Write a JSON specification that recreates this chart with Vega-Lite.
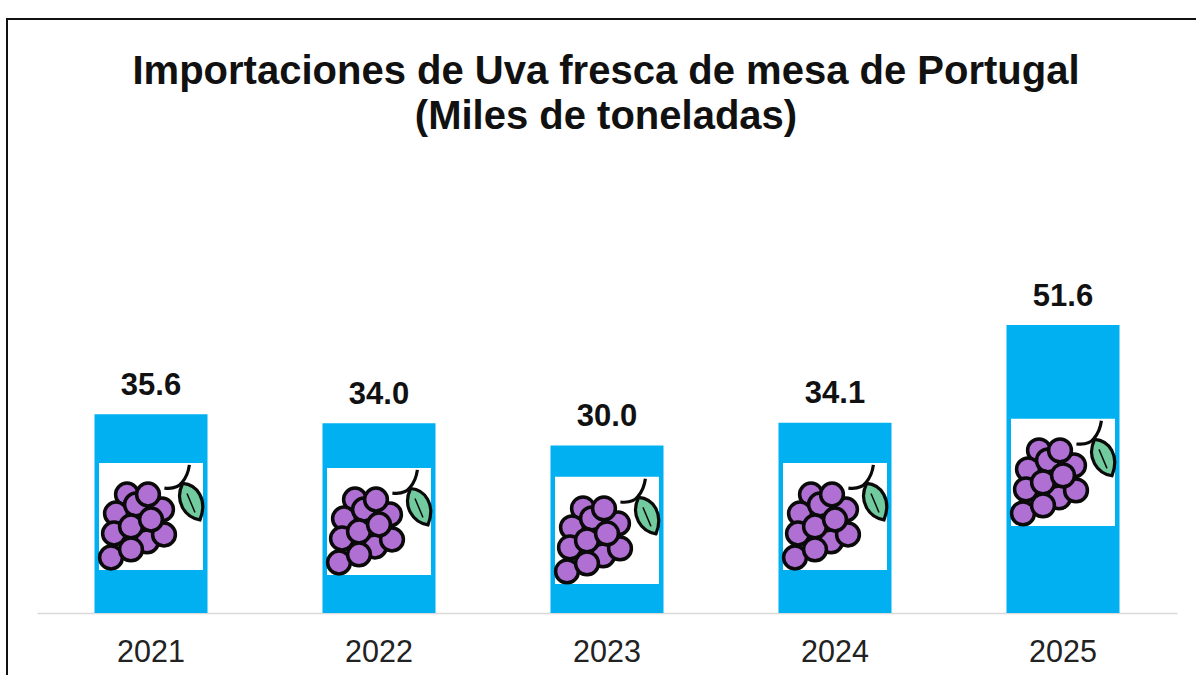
{"$schema":"https://vega.github.io/schema/vega-lite/v6.json","width":1220,"height":681,"autosize":{"type":"none"},"padding":{"left":7,"top":19,"right":0,"bottom":0},"background":"white","config":{"view":{"stroke":"#111111","strokeWidth":2},"font":"Liberation Sans"},"title":{"text":["Importaciones de Uva fresca de mesa de Portugal","(Miles de toneladas)"],"font":"Liberation Sans","fontSize":40,"fontWeight":"bold","color":"#111111","anchor":"middle","dx":-11,"baseline":"top","lineHeight":45,"offset":-117.5},"datasets":{"bars":[{"year":"2021","value":35.6,"label":"35.6"},{"year":"2022","value":34.0,"label":"34.0"},{"year":"2023","value":30.0,"label":"30.0"},{"year":"2024","value":34.1,"label":"34.1"},{"year":"2025","value":51.6,"label":"51.6"}],"icons":[{"year":"2021","low":7.7,"high":26.9,"c":17.3},{"year":"2022","low":6.8,"high":26.0,"c":16.4},{"year":"2023","low":5.2,"high":24.4,"c":14.8},{"year":"2024","low":7.7,"high":26.9,"c":17.3},{"year":"2025","low":15.6,"high":34.8,"c":25.2}],"grapes":[{"year":"2021","y":21.24,"dx":-24},{"year":"2021","y":18.55,"dx":11},{"year":"2021","y":17.84,"dx":-35},{"year":"2021","y":19.45,"dx":-15},{"year":"2021","y":21.24,"dx":-3},{"year":"2021","y":12.82,"dx":-4},{"year":"2021","y":14.25,"dx":-37},{"year":"2021","y":9.95,"dx":-40},{"year":"2021","y":14.07,"dx":13},{"year":"2021","y":15.51,"dx":-20},{"year":"2021","y":16.76,"dx":0},{"year":"2021","y":11.39,"dx":-20},{"year":"2022","y":20.34,"dx":-24},{"year":"2022","y":17.65,"dx":11},{"year":"2022","y":16.94,"dx":-35},{"year":"2022","y":18.55,"dx":-15},{"year":"2022","y":20.34,"dx":-3},{"year":"2022","y":11.92,"dx":-4},{"year":"2022","y":13.35,"dx":-37},{"year":"2022","y":9.05,"dx":-40},{"year":"2022","y":13.17,"dx":13},{"year":"2022","y":14.61,"dx":-20},{"year":"2022","y":15.86,"dx":0},{"year":"2022","y":10.49,"dx":-20},{"year":"2023","y":18.74,"dx":-24},{"year":"2023","y":16.05,"dx":11},{"year":"2023","y":15.34,"dx":-35},{"year":"2023","y":16.95,"dx":-15},{"year":"2023","y":18.74,"dx":-3},{"year":"2023","y":10.32,"dx":-4},{"year":"2023","y":11.75,"dx":-37},{"year":"2023","y":7.45,"dx":-40},{"year":"2023","y":11.57,"dx":13},{"year":"2023","y":13.01,"dx":-20},{"year":"2023","y":14.26,"dx":0},{"year":"2023","y":8.89,"dx":-20},{"year":"2024","y":21.24,"dx":-24},{"year":"2024","y":18.55,"dx":11},{"year":"2024","y":17.84,"dx":-35},{"year":"2024","y":19.45,"dx":-15},{"year":"2024","y":21.24,"dx":-3},{"year":"2024","y":12.82,"dx":-4},{"year":"2024","y":14.25,"dx":-37},{"year":"2024","y":9.95,"dx":-40},{"year":"2024","y":14.07,"dx":13},{"year":"2024","y":15.51,"dx":-20},{"year":"2024","y":16.76,"dx":0},{"year":"2024","y":11.39,"dx":-20},{"year":"2025","y":29.14,"dx":-24},{"year":"2025","y":26.45,"dx":11},{"year":"2025","y":25.74,"dx":-35},{"year":"2025","y":27.35,"dx":-15},{"year":"2025","y":29.14,"dx":-3},{"year":"2025","y":20.72,"dx":-4},{"year":"2025","y":22.15,"dx":-37},{"year":"2025","y":17.85,"dx":-40},{"year":"2025","y":21.97,"dx":13},{"year":"2025","y":23.41,"dx":-20},{"year":"2025","y":24.66,"dx":0},{"year":"2025","y":19.29,"dx":-20}]},"encoding":{"x":{"field":"year","type":"nominal","scale":{"range":[30,1170],"paddingInner":0,"paddingOuter":0},"axis":{"title":null,"labelAngle":0,"labelFont":"Liberation Sans","labelFontSize":30.5,"labelColor":"#222222","labelPadding":24,"ticks":false,"domainColor":"#d9d9d9","domainWidth":1.5,"offset":-87,"grid":false}}},"layer":[{"data":{"name":"bars"},"mark":{"type":"bar","size":113,"color":"#00B0F0"},"encoding":{"y":{"field":"value","type":"quantitative","scale":{"domain":[0,106.45],"range":[594,0],"nice":false,"zero":false},"axis":null}}},{"data":{"name":"bars"},"mark":{"type":"text","font":"Liberation Sans","fontSize":31,"fontWeight":"bold","color":"#111111","dy":-28.5,"baseline":"middle"},"encoding":{"y":{"field":"value","type":"quantitative"},"text":{"field":"label","type":"nominal"}}},{"data":{"name":"icons"},"mark":{"type":"bar","size":104,"color":"white"},"encoding":{"y":{"field":"low","type":"quantitative"},"y2":{"field":"high"}}},{"data":{"name":"grapes"},"mark":{"type":"point","shape":"circle","filled":true,"size":520,"fill":"#B06FD3","stroke":"#0a0a0a","strokeWidth":3.5,"opacity":1},"encoding":{"y":{"field":"y","type":"quantitative"},"xOffset":{"field":"dx","type":"quantitative","scale":{"domain":[-114,114]}}}},{"data":{"name":"icons"},"mark":{"type":"point","shape":"M-1.33,-0.67 Q-0.7,-0.6 -0.45,-0.95 Q-0.15,-1.3 -0.08,-1.83","size":1600,"fill":"transparent","stroke":"#0a0a0a","strokeWidth":3.2,"xOffset":40,"yOffset":-15,"opacity":1},"encoding":{"y":{"field":"c","type":"quantitative"}}},{"data":{"name":"icons"},"mark":{"type":"point","shape":"M-0.42,-0.9 C0.3,-0.85 0.85,-0.1 0.45,0.92 C-0.3,0.8 -0.85,0 -0.42,-0.9 Z","size":1600,"filled":true,"fill":"#72CB9F","stroke":"#0a0a0a","strokeWidth":3.2,"xOffset":40,"yOffset":-15,"opacity":1},"encoding":{"y":{"field":"c","type":"quantitative"}}},{"data":{"name":"icons"},"mark":{"type":"point","shape":"M-0.2,-0.4 L0.2,0.55","size":1600,"fill":"transparent","stroke":"#0a0a0a","strokeWidth":1.5,"xOffset":40,"yOffset":-15,"opacity":1},"encoding":{"y":{"field":"c","type":"quantitative"}}}]}
